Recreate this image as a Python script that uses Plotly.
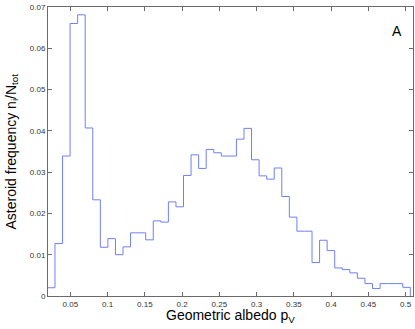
import plotly.graph_objects as go

# Bordures des classes d'albédo (48 classes)
bin_edges = [0.0192, 0.02935, 0.0395, 0.04965, 0.0598, 0.06995, 0.0801, 0.09025,
             0.1004, 0.11055, 0.1207, 0.13085, 0.141, 0.15115, 0.1613, 0.17145,
             0.1816, 0.19175, 0.2019, 0.21205, 0.2222, 0.23235, 0.2425, 0.25265,
             0.2628, 0.27295, 0.2831, 0.29325, 0.3034, 0.31355, 0.3237, 0.33385,
             0.344, 0.35415, 0.3643, 0.37445, 0.3846, 0.39475, 0.4049, 0.41505,
             0.4252, 0.43535, 0.4455, 0.45565, 0.4658, 0.47595, 0.4861, 0.49625,
             0.5064]

# Fréquence relative n_i/N_tot par classe
freq = [0.0020, 0.0127, 0.0339, 0.0660, 0.0681, 0.0407, 0.0233, 0.0118,
        0.0139, 0.0100, 0.0119, 0.0153, 0.0153, 0.0136, 0.0182, 0.0179,
        0.0228, 0.0216, 0.0292, 0.0342, 0.0309, 0.0355, 0.0347, 0.0339,
        0.0339, 0.0380, 0.0406, 0.0330, 0.0291, 0.0283, 0.0310, 0.0241,
        0.0191, 0.0157, 0.0157, 0.0081, 0.0135, 0.0110, 0.0068, 0.0064,
        0.0056, 0.0043, 0.0030, 0.0018, 0.0030, 0.0030, 0.0030, 0.0021]

x_ticks = [0.05, 0.1, 0.15, 0.2, 0.25, 0.3, 0.35, 0.4, 0.45, 0.5]
x_labels = ["0.05", "0.1", "0.15", "0.2", "0.25", "0.3", "0.35", "0.4", "0.45", "0.5"]
y_ticks = [0, 0.01, 0.02, 0.03, 0.04, 0.05, 0.06, 0.07]
y_labels = ["0", "0.01", "0.02", "0.03", "0.04", "0.05", "0.06", "0.07"]

fig = go.Figure()

# Histogramme en escalier
fig.add_trace(go.Scatter(
    x=bin_edges,
    y=freq + [0],
    mode='lines',
    line=dict(color='#6f80f2', width=1, shape='hv'),
    showlegend=False,
    hoverinfo='skip'
))

axis_style = dict(
    showline=True, linecolor='#6a6a6a', linewidth=1, mirror='ticks',
    ticks='inside', ticklen=4, tickcolor='#6a6a6a', tickwidth=1,
    showgrid=False, zeroline=False,
    tickfont=dict(size=8, color='#333333')
)

fig.update_xaxes(range=[0.02, 0.51], tickvals=x_ticks, ticktext=x_labels, **axis_style)
fig.update_yaxes(range=[0, 0.07], tickvals=y_ticks, ticktext=y_labels, **axis_style)

fig.update_layout(
    width=415, height=329,
    margin=dict(l=48, r=2, t=7, b=33),
    paper_bgcolor='white', plot_bgcolor='white',
    font=dict(family='Liberation Sans, Arial, sans-serif', color='#000000'),
    annotations=[
        dict(text="Geometric albedo p<sub>V</sub>", x=0.5, y=0, xref='paper', yref='paper',
             xanchor='center', yanchor='top', yshift=-9, showarrow=False,
             font=dict(size=14)),
        dict(text="Asteroid frequency n<sub>i</sub>/N<sub>tot</sub>", x=0, y=0.5,
             xref='paper', yref='paper', xanchor='center', yanchor='middle',
             xshift=-37, textangle=-90, showarrow=False, font=dict(size=14)),
        dict(text="A", x=0.956, y=0.918, xref='paper', yref='paper',
             xanchor='center', yanchor='middle', showarrow=False, font=dict(size=14)),
    ]
)

# Supprime la marge par défaut du <body> pour caler la figure dans la fenêtre
fig.write_html("out.html", config={'displayModeBar': False},
               post_script="document.body.style.margin='0px';")
